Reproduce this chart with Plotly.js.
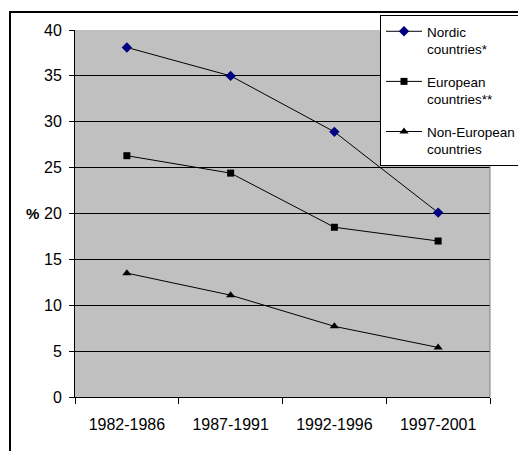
<!DOCTYPE html>
<html>
<head>
<meta charset="utf-8">
<script src="https://cdn.plot.ly/plotly-3.0.1.min.js"></script>
<style>html,body{margin:0;padding:0;background:#fff;} #chart{width:518px;height:451px;}</style>
</head>
<body>
<div id="chart"></div>
<script>
const periods = ['1982-1986', '1987-1991', '1992-1996', '1997-2001'];
const nordic = [38.1, 35.0, 28.9, 20.1];
const european = [26.3, 24.4, 18.5, 17.0];
const nonEuropean = [13.5, 11.1, 7.7, 5.4];
const seriesNames = ['Nordic<br>countries*', 'European<br>countries**', 'Non-European<br>countries'];
const yTicks = [0, 5, 10, 15, 20, 25, 30, 35, 40];

const FONT = 'Arial, "Liberation Sans", sans-serif';
function mk(name, y, symbol, color, size, g) {
  return {
    type: 'scatter', mode: 'lines+markers', x: periods, y: y, name: name,
    legendgroup: g,
    line: {color: '#000000', width: 1},
    marker: {symbol: symbol, color: color, size: size, line: {width: 0}}
  };
}
const data = [
  mk(seriesNames[0], nordic, 'diamond', '#000080', 8, 'a'),
  mk(seriesNames[1], european, 'square', '#000000', 7, 'b'),
  mk(seriesNames[2], nonEuropean, 'triangle-up', '#000000', 8, 'c')
];
const L = 75, R = 490, T = 30, B = 397;
const W = R - L, H = B - T;
const px = v => (v - L) / W;
const py = v => (B - v) / H;
const layout = {
  width: 518, height: 451,
  margin: {l: L, r: 518 - R, t: T, b: 451 - B, pad: 0, autoexpand: false},
  paper_bgcolor: '#ffffff', plot_bgcolor: '#c0c0c0',
  font: {family: FONT, size: 15, color: '#000000'},
  showlegend: true,
  xaxis: {
    type: 'category', range: [-0.5, 3.5], tickson: 'boundaries', automargin: false,
    ticks: 'outside', ticklen: 6, tickcolor: '#000', tickwidth: 1,
    showline: true, linecolor: '#000', linewidth: 1,
    showgrid: false, zeroline: false,
    tickfont: {family: FONT, size: 16}, ticklabelstandoff: 13
  },
  yaxis: {
    range: [0, 40], tickvals: yTicks, ticktext: yTicks.map(String), automargin: false,
    ticks: 'outside', ticklen: 5, tickcolor: '#000', tickwidth: 1,
    showline: true, linecolor: '#000', linewidth: 1,
    showgrid: true, gridcolor: '#000', gridwidth: 1, zeroline: false,
    tickfont: {family: FONT, size: 16}, ticklabelstandoff: 4
  },
  legend: {
    x: px(380), y: py(15), xanchor: 'left', yanchor: 'top',
    bgcolor: '#ffffff', bordercolor: '#000000', borderwidth: 1,
    font: {family: FONT, size: 13.5}, valign: 'top',
    itemwidth: 36, entrywidth: 150, entrywidthmode: 'pixels',
    traceorder: 'grouped', tracegroupgap: 12, itemclick: false
  },
  annotations: [{
    xref: 'paper', yref: 'y', x: px(41), y: 20, xanchor: 'right', yanchor: 'middle',
    text: '<b>%</b>', showarrow: false, font: {family: FONT, size: 15}
  }],
  shapes: [
    {type: 'rect', xref: 'paper', yref: 'paper', x0: px(10), x1: px(560), y0: py(500), y1: py(12),
     line: {color: '#000', width: 2}, fillcolor: 'rgba(0,0,0,0)', layer: 'below'},
    {type: 'line', xref: 'paper', yref: 'paper', x0: 1, x1: 1, y0: 0, y1: 1,
     line: {color: '#808080', width: 1}}
  ]
};
Plotly.newPlot('chart', data, layout, {displayModeBar: false, staticPlot: true});
</script>
</body>
</html>
